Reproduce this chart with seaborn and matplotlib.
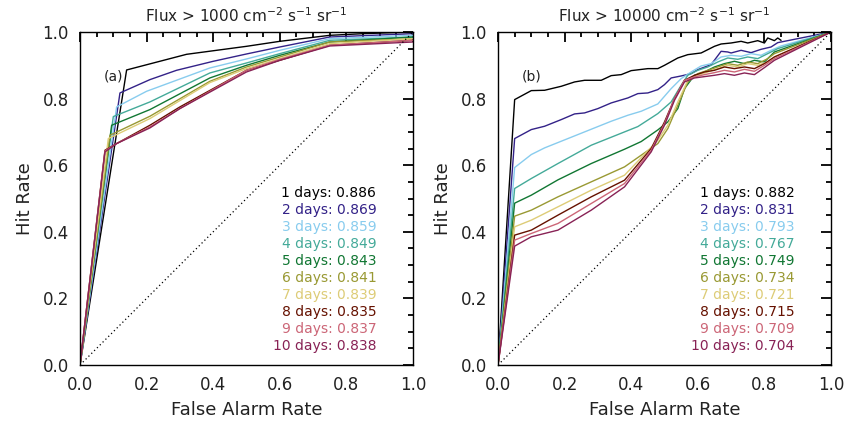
import numpy as np
import pandas as pd
import seaborn as sns
import matplotlib.pyplot as plt
from matplotlib.ticker import MultipleLocator

# colours for 1..10 day forecasts
colors = ['#000000', '#332288', '#88CCEE', '#44AA99', '#117733',
          '#999933', '#DDCC77', '#661100', '#CC6677', '#882255']
days = [f'{i} days' for i in range(1, 11)]

# panel (a): flux > 1000
auc_a = [0.886, 0.869, 0.859, 0.849, 0.843, 0.841, 0.839, 0.835, 0.837, 0.838]
far_a = [
    [0, 0.14, 0.32, 0.50, 0.60, 0.75, 0.85, 1.0],
    [0, 0.12, 0.21, 0.29, 0.40, 0.50, 0.60, 0.75, 1.0],
    [0, 0.11, 0.20, 0.39, 0.50, 0.60, 0.75, 1.0],
    [0, 0.10, 0.21, 0.39, 0.50, 0.60, 0.75, 1.0],
    [0, 0.095, 0.21, 0.39, 0.50, 0.60, 0.75, 1.0],
    [0, 0.09, 0.21, 0.39, 0.50, 0.60, 0.75, 1.0],
    [0, 0.085, 0.21, 0.39, 0.50, 0.60, 0.75, 1.0],
    [0, 0.075, 0.11, 0.21, 0.30, 0.50, 0.60, 0.75, 1.0],
    [0, 0.075, 0.11, 0.21, 0.30, 0.50, 0.60, 0.75, 1.0],
    [0, 0.075, 0.11, 0.21, 0.30, 0.50, 0.60, 0.75, 1.0],
]
hr_a = [
    [0, 0.886, 0.933, 0.957, 0.972, 0.990, 0.995, 1.0],
    [0, 0.817, 0.857, 0.885, 0.912, 0.934, 0.955, 0.985, 0.995],
    [0, 0.775, 0.822, 0.892, 0.919, 0.945, 0.980, 0.990],
    [0, 0.746, 0.790, 0.877, 0.907, 0.935, 0.975, 0.985],
    [0, 0.720, 0.767, 0.862, 0.900, 0.930, 0.970, 0.985],
    [0, 0.690, 0.747, 0.852, 0.895, 0.925, 0.970, 0.980],
    [0, 0.680, 0.740, 0.848, 0.890, 0.920, 0.965, 0.980],
    [0, 0.645, 0.665, 0.720, 0.775, 0.885, 0.915, 0.960, 0.975],
    [0, 0.643, 0.665, 0.715, 0.770, 0.885, 0.918, 0.960, 0.975],
    [0, 0.640, 0.665, 0.712, 0.770, 0.880, 0.915, 0.958, 0.970],
]

# panel (b): flux > 10000
auc_b = [0.882, 0.831, 0.793, 0.767, 0.749, 0.734, 0.721, 0.715, 0.709, 0.704]
far_b = [
    [0, 0.05, 0.10, 0.14, 0.19, 0.23, 0.26, 0.31, 0.34, 0.37, 0.40, 0.45, 0.48, 0.50,
     0.54, 0.57, 0.61, 0.65, 0.67, 0.70, 0.73, 0.75, 0.78, 0.80, 0.81, 0.83, 0.84, 0.85],
    [0, 0.05, 0.10, 0.14, 0.19, 0.23, 0.26, 0.30, 0.34, 0.39, 0.42, 0.45, 0.48, 0.50,
     0.52, 0.55, 0.58, 0.60, 0.64, 0.67, 0.69, 0.70, 0.73, 0.76, 0.79, 0.82, 0.84, 1.0],
    [0, 0.05, 0.10, 0.14, 0.19, 0.24, 0.29, 0.34, 0.39, 0.43, 0.48, 0.50, 0.52, 0.55,
     0.58, 0.61, 0.64, 0.67, 0.70, 0.73, 0.76, 0.79, 0.82, 0.85, 1.0],
    [0, 0.05, 0.10, 0.18, 0.28, 0.38, 0.42, 0.48, 0.52, 0.55, 0.57, 0.60, 0.63, 0.66,
     0.69, 0.72, 0.75, 0.78, 0.81, 0.84, 1.0],
    [0, 0.05, 0.10, 0.18, 0.28, 0.38, 0.43, 0.48, 0.51, 0.54, 0.56, 0.59, 0.62, 0.65,
     0.68, 0.71, 0.74, 0.77, 0.80, 0.83, 1.0],
    [0, 0.05, 0.10, 0.18, 0.28, 0.38, 0.48, 0.51, 0.54, 0.57, 0.60, 0.63, 0.66, 0.69,
     0.72, 0.75, 0.78, 0.81, 0.83, 1.0],
    [0, 0.05, 0.10, 0.18, 0.28, 0.38, 0.48, 0.51, 0.54, 0.57, 0.60, 0.63, 0.66, 0.69,
     0.72, 0.75, 0.78, 0.81, 0.83, 1.0],
    [0, 0.05, 0.10, 0.18, 0.28, 0.38, 0.46, 0.50, 0.53, 0.56, 0.59, 0.62, 0.65, 0.68,
     0.71, 0.74, 0.77, 0.80, 0.83, 1.0],
    [0, 0.05, 0.10, 0.18, 0.28, 0.38, 0.46, 0.50, 0.53, 0.56, 0.59, 0.62, 0.65, 0.68,
     0.71, 0.74, 0.77, 0.80, 0.83, 1.0],
    [0, 0.05, 0.10, 0.18, 0.28, 0.38, 0.46, 0.50, 0.53, 0.56, 0.59, 0.62, 0.65, 0.68,
     0.71, 0.74, 0.77, 0.80, 0.83, 1.0],
]
hr_b = [
    [0, 0.797, 0.824, 0.825, 0.837, 0.850, 0.855, 0.855, 0.869, 0.872, 0.884, 0.890, 0.890, 0.900,
     0.922, 0.932, 0.937, 0.957, 0.964, 0.967, 0.972, 0.967, 0.974, 0.967, 0.982, 0.974, 0.982, 0.975],
    [0, 0.680, 0.707, 0.717, 0.737, 0.754, 0.757, 0.770, 0.787, 0.802, 0.815, 0.817, 0.827, 0.842,
     0.862, 0.868, 0.875, 0.887, 0.902, 0.942, 0.940, 0.937, 0.945, 0.938, 0.948, 0.955, 0.968, 1.0],
    [0, 0.593, 0.632, 0.652, 0.672, 0.692, 0.712, 0.732, 0.750, 0.762, 0.784, 0.807, 0.830, 0.860,
     0.880, 0.898, 0.905, 0.925, 0.930, 0.927, 0.935, 0.930, 0.945, 0.958, 1.0],
    [0, 0.530, 0.560, 0.605, 0.660, 0.700, 0.716, 0.755, 0.790, 0.840, 0.870, 0.885, 0.895, 0.910,
     0.922, 0.918, 0.925, 0.920, 0.935, 0.950, 1.0],
    [0, 0.486, 0.510, 0.556, 0.605, 0.648, 0.671, 0.706, 0.730, 0.770, 0.830, 0.870, 0.880, 0.895,
     0.905, 0.912, 0.905, 0.915, 0.910, 0.940, 1.0],
    [0, 0.447, 0.465, 0.505, 0.550, 0.595, 0.665, 0.710, 0.780, 0.850, 0.875, 0.885, 0.895, 0.905,
     0.900, 0.910, 0.905, 0.920, 0.935, 1.0],
    [0, 0.415, 0.435, 0.475, 0.525, 0.570, 0.675, 0.720, 0.790, 0.855, 0.870, 0.880, 0.890, 0.900,
     0.895, 0.905, 0.900, 0.910, 0.925, 1.0],
    [0, 0.390, 0.405, 0.450, 0.505, 0.555, 0.650, 0.730, 0.800, 0.855, 0.870, 0.880, 0.885, 0.895,
     0.890, 0.895, 0.890, 0.905, 0.925, 1.0],
    [0, 0.375, 0.395, 0.425, 0.485, 0.545, 0.645, 0.725, 0.800, 0.855, 0.865, 0.872, 0.878, 0.885,
     0.880, 0.888, 0.882, 0.900, 0.920, 1.0],
    [0, 0.357, 0.385, 0.405, 0.465, 0.535, 0.640, 0.720, 0.795, 0.850, 0.862, 0.866, 0.870, 0.875,
     0.870, 0.877, 0.872, 0.893, 0.915, 1.0],
]


def to_frame(far, hr):
    rows = []
    for d, xs, ys in zip(days, far, hr):
        for i, (x, y) in enumerate(zip(xs, ys)):
            rows.append({'days': d, 'order': i, 'far': x, 'hr': y})
    return pd.DataFrame(rows)


sns.set_theme(style='white')
plt.rcParams['font.family'] = ['DejaVu Sans']
plt.rcParams['text.color'] = '#222222'
plt.rcParams['axes.labelcolor'] = '#222222'
plt.rcParams['xtick.color'] = '#222222'
plt.rcParams['ytick.color'] = '#222222'

fig = plt.figure(figsize=(8.51, 4.21), dpi=100)
ax_a = fig.add_axes([80 / 851, 56 / 421, 333 / 851, 333 / 421])
ax_b = fig.add_axes([498 / 851, 56 / 421, 333 / 851, 333 / 421])

panels = [
    (ax_a, far_a, hr_a, auc_a, '(a)', 'Flux > 1000 cm$^{-2}$ s$^{-1}$ sr$^{-1}$'),
    (ax_b, far_b, hr_b, auc_b, '(b)', 'Flux > 10000 cm$^{-2}$ s$^{-1}$ sr$^{-1}$'),
]

for ax, far, hr, auc, tag, title in panels:
    df = to_frame(far, hr)
    sns.lineplot(data=df, x='far', y='hr', hue='days', palette=colors,
                 hue_order=days, sort=False, estimator=None, legend=False,
                 lw=1.0, ax=ax)
    ax.plot([0, 1], [0, 1], color='black', ls=(0, (1, 2.2)), lw=0.9)

    ax.set_xlim(0, 1)
    ax.set_ylim(0, 1)
    ax.xaxis.set_major_locator(MultipleLocator(0.2))
    ax.yaxis.set_major_locator(MultipleLocator(0.2))
    ax.xaxis.set_minor_locator(MultipleLocator(0.05))
    ax.yaxis.set_minor_locator(MultipleLocator(0.05))
    ax.tick_params(which='both', direction='in', top=True, right=True,
                   color='black', width=1.3, labelsize=12, pad=8)
    ax.tick_params(which='major', length=7)
    ax.tick_params(which='minor', length=3.5)
    ax.set_xticklabels([f'{v:.1f}' for v in ax.get_xticks()])
    ax.set_yticklabels([f'{v:.1f}' for v in ax.get_yticks()])
    for sp in ax.spines.values():
        sp.set_color('black')
        sp.set_linewidth(1.0)

    ax.set_xlabel('False Alarm Rate', fontsize=13, labelpad=5)
    ax.set_ylabel('Hit Rate', fontsize=13, labelpad=6)
    ax.set_title(title, fontsize=11, pad=7)
    ax.text(0.10, 0.865, tag, fontsize=10, ha='center', va='center')

    for i, (d, a, c) in enumerate(zip(days, auc, colors)):
        ax.text(0.89, 0.517 - i * 0.0512, f'{d}: {a:.3f}', color=c,
                fontsize=10, ha='right', va='center')

fig.savefig('out.png', dpi=100)
